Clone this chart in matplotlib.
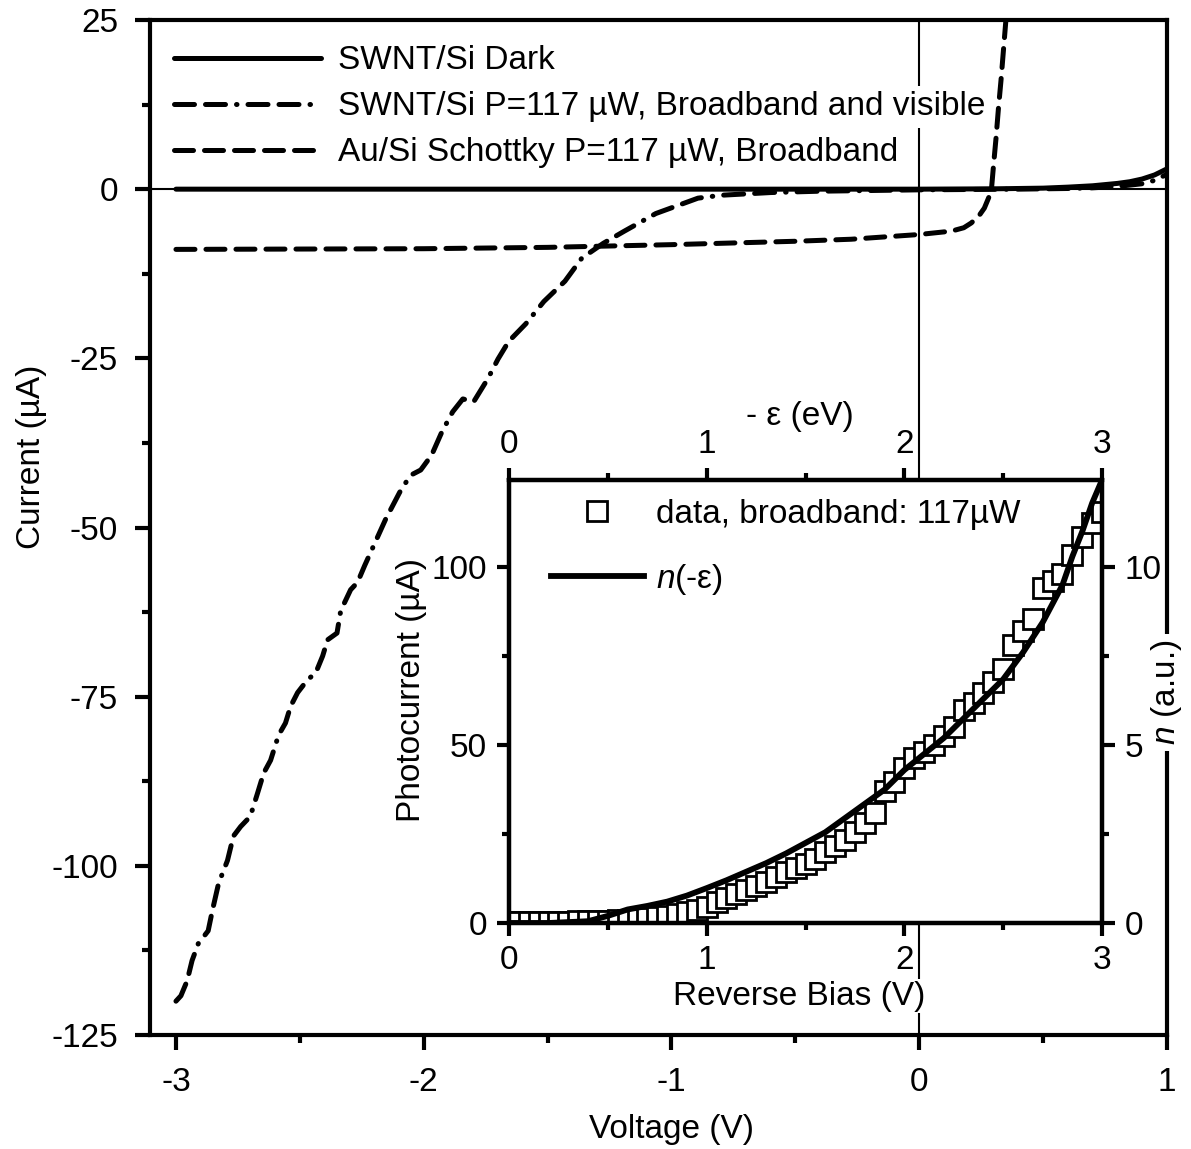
# I-V curves of SWNT/Si and Au/Si junctions, with photocurrent inset

import numpy as np
import matplotlib
matplotlib.use('Agg')
import matplotlib.pyplot as plt
from matplotlib.ticker import MultipleLocator

plt.rcParams['font.family'] = ['Liberation Sans', 'DejaVu Sans']
plt.rcParams['axes.unicode_minus'] = False
plt.rcParams['mathtext.fontset'] = 'custom'
plt.rcParams['mathtext.it'] = 'Liberation Sans:italic'
plt.rcParams['mathtext.rm'] = 'Liberation Sans'

# main panel: dark curve
dark_v = [-3.0, -2.0, -1.0, 0.0, 0.3, 0.5, 0.6, 0.7, 0.8, 0.85, 0.9, 0.95, 1.0]
dark_i = [0.0, 0.0, 0.0, 0.0, 0.05, 0.15, 0.3, 0.5, 0.85, 1.1, 1.5, 2.1, 3.0]

# main panel: SWNT/Si illuminated
swnt_v = [-3.00, -2.98, -2.955, -2.935, -2.91, -2.87, -2.853, -2.828, -2.792, -2.768,
          -2.739, -2.70, -2.671, -2.646, -2.618, -2.586, -2.558, -2.537, -2.509, -2.469,
          -2.436, -2.408, -2.388, -2.35, -2.335, -2.295, -2.267, -2.238, -2.196, -2.154,
          -2.097, -2.054, -2.012, -1.968, -1.927, -1.883, -1.842, -1.798, -1.741, -1.70,
          -1.657, -1.588, -1.515, -1.43, -1.362, -1.275, -1.19, -1.063, -0.893, -0.8,
          -0.6, -0.4, -0.2, 0.0, 0.2, 0.4, 0.6, 0.7, 0.8, 0.9, 0.95, 1.0]
swnt_i = [-120.0, -119.2, -117.0, -114.0, -111.5, -109.6, -106.6, -102.6, -99.2, -95.6,
          -94.2, -92.7, -89.3, -86.3, -84.4, -80.7, -78.9, -76.4, -74.4, -72.5,
          -71.5, -69.0, -66.6, -65.6, -62.3, -59.2, -58.1, -55.6, -52.2, -48.8,
          -44.8, -42.3, -41.5, -39.3, -35.9, -32.9, -31.0, -31.4, -28.0, -25.1,
          -22.5, -19.9, -16.6, -13.6, -10.2, -8.0, -6.2, -3.6, -1.33, -0.9,
          -0.5, -0.3, -0.2, -0.1, -0.05, 0.0, 0.1, 0.2, 0.4, 0.8, 1.3, 2.2]

# main panel: Au/Si Schottky illuminated
au_v = [-3.0, -2.5, -2.0, -1.5, -1.0, -0.5, -0.275, 0.0, 0.13, 0.18, 0.21, 0.24,
        0.263, 0.28, 0.291, 0.30, 0.31, 0.32, 0.33, 0.34, 0.35, 0.355]
au_i = [-8.9, -8.85, -8.8, -8.6, -8.2, -7.7, -7.4, -6.7, -6.2, -5.7, -5.0, -4.0,
        -2.8, -1.3, -0.3, 3.5, 7.5, 12.0, 16.0, 20.5, 25.0, 27.0]

# inset: measured photocurrent (squares)
bias = [0.00, 0.05, 0.10, 0.15, 0.20, 0.25, 0.30, 0.35, 0.40, 0.45,
        0.50, 0.55, 0.60, 0.65, 0.70, 0.75, 0.80, 0.85, 0.90, 0.95,
        1.00, 1.05, 1.10, 1.15, 1.20, 1.25, 1.30, 1.35, 1.40, 1.45,
        1.50, 1.55, 1.60, 1.65, 1.70, 1.75, 1.80, 1.85, 1.90, 1.95,
        2.00, 2.05, 2.10, 2.15, 2.20, 2.25, 2.30, 2.35, 2.40, 2.45,
        2.50, 2.55, 2.60, 2.65, 2.70, 2.75, 2.80, 2.85, 2.90, 2.95, 3.00]
photo = [0.3, 0.3, 0.3, 0.3, 0.3, 0.4, 0.4, 0.5, 0.5, 0.6,
         0.7, 0.8, 0.9, 1.1, 1.4, 1.7, 2.0, 2.5, 3.0, 3.6,
         4.6, 5.8, 7.0, 8.2, 9.4, 10.4, 11.6, 12.9, 14.3, 15.5,
         16.7, 18.1, 20.0, 21.6, 23.3, 25.6, 28.1, 30.9, 37.0, 39.5,
         43.5, 46.5, 48.0, 50.0, 52.5, 55.0, 59.8, 61.8, 64.6, 67.6,
         71.5, 78.0, 82.0, 85.5, 94.0, 96.0, 98.0, 103.5, 108.5, 112.5, 115.5]

# inset: n(-eps) on right axis
n_bias = [0.0, 0.2, 0.4, 0.5, 0.6, 0.7, 0.8, 0.9, 1.0, 1.1, 1.2, 1.3, 1.4, 1.5, 1.6,
          1.7, 1.8, 1.9, 2.0, 2.1, 2.2, 2.3, 2.4, 2.5, 2.6, 2.7, 2.8, 2.85, 2.9, 2.95, 3.0]
n_vals = [0.0, 0.0, 0.05, 0.2, 0.38, 0.48, 0.6, 0.77, 0.98, 1.2, 1.44, 1.68, 1.95, 2.25, 2.55,
          2.95, 3.35, 3.75, 4.3, 4.75, 5.2, 5.75, 6.3, 6.85, 7.6, 8.45, 9.5, 10.3, 11.0, 11.8, 12.45]

FS = 24

fig = plt.figure(figsize=(11.91, 11.49), dpi=100)
ax = fig.add_axes([0.1259, 0.0992, 0.8539, 0.8834])
ax.axhline(0, color='k', lw=1.5, zorder=1)
ax.axvline(0, color='k', lw=1.5, zorder=1)
ax.plot(dark_v, dark_i, color='k', lw=3.6, solid_capstyle='round', label='SWNT/Si Dark')
ax.plot(swnt_v, swnt_i, color='k', lw=3.6, ls=(0, (4, 2.2, 4, 2.2, 0.1, 2.2)),
        dash_capstyle='round', label='SWNT/Si P=117 µW, Broadband and visible')
ax.plot(au_v, au_i, color='k', lw=3.6, ls=(0, (3.8, 2.2)), dash_capstyle='round',
        label='Au/Si Schottky P=117 µW, Broadband')
ax.set_xlim(-3.105, 1.0)
ax.set_ylim(-125, 25)
ax.xaxis.set_major_locator(MultipleLocator(1))
ax.xaxis.set_minor_locator(MultipleLocator(0.5))
ax.yaxis.set_major_locator(MultipleLocator(25))
ax.yaxis.set_minor_locator(MultipleLocator(12.5))
ax.tick_params(which='both', direction='out', width=3, labelsize=FS, top=False, right=False)
ax.tick_params(which='major', length=11, pad=12)
ax.tick_params(which='minor', length=6)
for s in ax.spines.values():
    s.set_linewidth(3)
ax.set_xlabel('Voltage (V)', fontsize=FS)
ax.set_ylabel('Current (µA)', fontsize=FS)
ax.xaxis.set_label_coords(0.513, -0.078)
ax.yaxis.set_label_coords(-0.101, 0.57)

leg = ax.legend(loc='upper left', bbox_to_anchor=(0.024, 0.975), frameon=False, fontsize=FS,
                handlelength=4.4, handletextpad=0.5, labelspacing=0.45,
                borderaxespad=0, borderpad=0)
leg.get_texts()[1].set_bbox(dict(facecolor='white', edgecolor='none', pad=4))

# inset
ins = fig.add_axes([0.4274, 0.1967, 0.4979, 0.3856])
ins.plot(bias, photo, ls='none', marker='s', ms=14.5, mfc='white', mec='k', mew=2,
         label='data, broadband: 117µW')
ins.set_xlim(0, 3)
ins.set_ylim(0, 124.5)
ins.xaxis.set_major_locator(MultipleLocator(1))
ins.xaxis.set_minor_locator(MultipleLocator(0.5))
ins.yaxis.set_major_locator(MultipleLocator(50))
ins.yaxis.set_minor_locator(MultipleLocator(25))
ins.tick_params(which='both', direction='out', width=3, labelsize=FS, top=False, right=False)
ins.tick_params(which='major', length=9, pad=7)
ins.tick_params(which='minor', length=5)
ins.set_xlabel('Reverse Bias (V)', fontsize=FS,
               bbox=dict(facecolor='white', edgecolor='none', pad=1))
ins.set_ylabel('Photocurrent (µA)', fontsize=FS)
ins.xaxis.set_label_coords(0.49, -0.13)
ins.yaxis.set_label_coords(-0.138, 0.526)

top = ins.twiny()
top.set_xlim(0, 3)
top.xaxis.set_major_locator(MultipleLocator(1))
top.xaxis.set_minor_locator(MultipleLocator(0.5))
top.tick_params(which='both', direction='out', width=3, labelsize=FS)
top.tick_params(which='major', length=9, pad=5)
top.tick_params(which='minor', length=5)
top.set_xlabel('- ε (eV)', fontsize=FS)
top.xaxis.set_label_coords(0.49, 1.125)

right = ins.twinx()
right.plot(n_bias, n_vals, color='k', lw=4.2, label=r'$n$(-ε)')
right.set_ylim(0, 12.45)
right.yaxis.set_major_locator(MultipleLocator(5))
right.yaxis.set_minor_locator(MultipleLocator(2.5))
right.tick_params(which='both', direction='out', width=3, labelsize=FS)
right.tick_params(which='major', length=9, pad=7)
right.tick_params(which='minor', length=5)
right.set_ylabel(r'$n$ (a.u.)', fontsize=FS,
                 bbox=dict(facecolor='white', edgecolor='none', pad=4))
right.yaxis.set_label_coords(1.08, 0.52)

for a in (ins, top, right):
    for s in a.spines.values():
        s.set_linewidth(3)

h1, l1 = ins.get_legend_handles_labels()
h2, l2 = right.get_legend_handles_labels()
right.legend(h1 + h2, l1 + l2, loc='upper left', bbox_to_anchor=(0.07, 0.957),
             frameon=False, fontsize=FS, handlelength=2.8, handletextpad=0.35,
             labelspacing=0.95, borderaxespad=0, borderpad=0, numpoints=1)

plt.savefig('out.png', dpi=100)
